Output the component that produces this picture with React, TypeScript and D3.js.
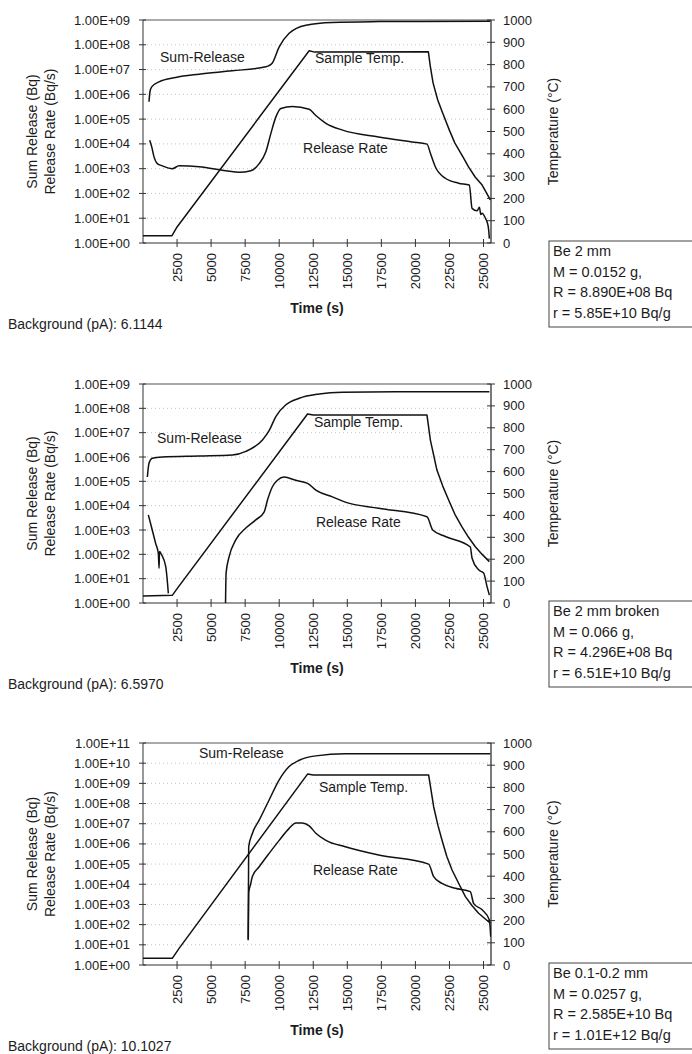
import React from "react";
import * as d3 from "d3";

type Pt = [number, number | null];

const FONT = "Liberation Sans, Arial, Helvetica, sans-serif";
const INK = "#1c1c1c";

const timeTicks = [2500, 5000, 7500, 10000, 12500, 15000, 17500, 20000, 22500, 25000];
const tempTicks = [0, 100, 200, 300, 400, 500, 600, 700, 800, 900, 1000];
const seriesNames = ["Sum-Release", "Sample Temp.", "Release Rate"];

// ---- Be 2 mm ----
const sum1: Pt[] = [
  [441, 5.0e5], [515, 1.3e6], [640, 2.0e6], [1176, 3.2e6], [2400, 4.8e6], [4116, 6.5e6],
  [6540, 8.9e6], [9020, 1.3e7], [9200, 1.4e7], [9480, 1.8e7], [10000, 8.3e7], [10730, 2.9e8],
  [11960, 6.2e8], [13890, 8.0e8], [17350, 8.6e8], [20290, 8.8e8], [25500, 8.9e8],
];
const rate1: Pt[] = [
  [490, 1.4e4], [640, 7.6e3], [810, 3.0e3], [1050, 1.6e3], [1420, 1.3e3], [2150, 1.0e3],
  [2650, 1.3e3], [4120, 1.2e3], [6080, 8.3e2], [7060, 7.2e2], [7915, 8.3e2], [8530, 1.6e3],
  [9020, 4.8e3], [9385, 2.6e4], [9750, 1.2e5], [10120, 2.7e5], [10970, 3.2e5], [12200, 2.5e5],
  [12690, 1.4e5], [13430, 6.8e4], [14650, 3.6e4], [17300, 1.9e4], [19750, 1.2e4], [20850, 9.8e3],
  [21100, 4.2e3], [21460, 1.2e3], [22200, 4.1e2], [23170, 2.6e2], [23960, 2.2e2], [24160, 25],
  [24530, 20], [24700, 28], [24800, 14], [24900, 16], [25140, 10], [25260, 7.2], [25380, 3.3],
  [25430, 1.5],
];
const temp1: Pt[] = [
  [0, 33], [2130, 33], [2500, 72], [12200, 862], [12600, 856], [20950, 858], [21100, 790],
  [21300, 717], [21640, 641], [22000, 583], [22500, 505], [22900, 448], [23500, 385],
  [23900, 341], [24400, 295], [24900, 260], [25500, 193],
];
const info1 = ["Be 2 mm", "M = 0.0152 g,", "R = 8.890E+08 Bq", "r = 5.85E+10 Bq/g"];
const bg1 = "Background (pA): 6.1144";

// ---- Be 2 mm broken ----
const sum2: Pt[] = [
  [320, 1.5e5], [440, 5.5e5], [680, 8.9e5], [1420, 1.0e6], [4120, 1.1e6], [6560, 1.2e6],
  [7550, 1.7e6], [8770, 5.0e6], [9260, 1.2e7], [9750, 4.6e7], [10490, 1.4e8], [11470, 2.6e8],
  [12940, 3.9e8], [14650, 4.6e8], [18520, 4.8e8], [25430, 4.8e8],
];
const rate2: Pt[] = [
  [390, 4.2e3], [680, 1.0e3], [930, 2.8e2], [1125, 1.1e2], [1180, 27], [1210, 1.3e2],
  [1350, 1.0e2], [1670, 31], [1860, 2.5], [1900, null],
  [6060, 1.0], [6100, 17], [6320, 79], [6810, 3.9e2], [7550, 1.2e3], [8280, 2.6e3],
  [8900, 5.6e3], [9140, 1.7e4], [9500, 6.0e4], [9870, 1.1e5], [10360, 1.5e5], [11220, 1.1e5],
  [12080, 8.3e4], [12690, 4.4e4], [13910, 2.3e4], [14850, 1.4e4], [17300, 7.8e3], [20850, 3.5e3],
  [21270, 1.0e3], [22200, 5.4e2], [24030, 2.0e2], [24160, 69], [24640, 23], [25010, 17],
  [25260, 4.7], [25430, 2.1],
];
const temp2: Pt[] = [
  [0, 32], [2150, 35], [2520, 67], [12080, 863], [12500, 858], [20850, 858], [21100, 744],
  [21580, 607], [22000, 535], [22440, 470], [22900, 405], [23420, 348], [23900, 300],
  [24400, 257], [24900, 222], [25430, 189],
];
const info2 = ["Be 2 mm broken", "M = 0.066 g,", "R = 4.296E+08 Bq", "r = 6.51E+10 Bq/g"];
const bg2 = "Background (pA): 6.5970";

// ---- Be 0.1-0.2 mm ----
const sum3: Pt[] = [
  [7720, 17], [7760, 7.2e5], [8030, 3.3e6], [8530, 1.5e7], [9260, 1.5e8], [10000, 1.5e9],
  [10730, 6.8e9], [11470, 1.4e10], [12690, 2.3e10], [14850, 2.9e10], [25500, 2.9e10],
];
const rate3: Pt[] = [
  [7730, 20], [7760, 4.0e3], [7900, 1.0e4], [8030, 2.4e4], [8530, 7.4e4], [9260, 3.4e5],
  [10000, 1.5e6], [10730, 5.9e6], [11220, 1.1e7], [11700, 1.1e7], [12200, 7.8e6], [12690, 3.4e6],
  [13430, 1.5e6], [14850, 7.2e5], [17300, 2.8e5], [20970, 1.0e5], [21340, 2.4e4], [21950, 1.1e4],
  [22930, 6.3e3], [24030, 4.3e3], [24280, 1.1e3], [24900, 5.4e2], [25430, 1.7e2], [25530, 25],
];
const temp3: Pt[] = [
  [0, 30], [2150, 30], [2650, 75], [12080, 860], [12500, 856], [20970, 856], [21340, 713],
  [21650, 630], [21950, 563], [22300, 490], [22690, 428], [23200, 365], [23670, 308],
  [24150, 268], [24640, 233], [25500, 188],
];
const info3 = ["Be 0.1-0.2 mm", "M = 0.0257 g,", "R = 2.585E+10 Bq", "r = 1.01E+12 Bq/g"];
const bg3 = "Background (pA): 10.1027";

// label anchors: [time, Bq value] for log series, [time, °C] for temperature
const labels1: Pt[] = [[1250, 2.0e7], [12630, 807], [11750, 4.3e3]];
const labels2: Pt[] = [[1030, 3.8e6], [12550, 804], [12700, 1.3e3]];
const labels3: Pt[] = [[4110, 1.8e10], [12920, 779], [12480, 2.9e4]];

const fmtExp = (e: number) => `1.00E+${String(e).padStart(2, "0")}`;

function Panel({ id, top, bottom, maxExp, sum, rate, temp, labels, info, background }: any) {
  const left = 143, right = 491;
  const x = d3.scaleLinear().domain([0, 25550]).range([left, right]);
  const y = d3.scaleLog().domain([1, Math.pow(10, maxExp)]).range([bottom, top]);
  const yT = d3.scaleLinear().domain([0, 1000]).range([bottom, top]);
  const exps = d3.range(0, maxExp + 1);

  const logLine = d3.line<Pt>()
    .defined(d => d[1] != null && (d[1] as number) > 0)
    .x(d => x(d[0]))
    .y(d => y(d[1] as number))
    .curve(d3.curveMonotoneX);
  const tempLine = d3.line<Pt>()
    .x(d => x(d[0]))
    .y(d => yT(d[1] as number));

  const midY = (top + bottom) / 2;
  const midX = (left + right) / 2;

  return (
    <g fontFamily={FONT} fill={INK}>
      <defs>
        <clipPath id={`clip${id}`}>
          <rect x={left} y={top - 1} width={right - left} height={bottom - top + 2} />
        </clipPath>
      </defs>

      {/* dotted grid */}
      {exps.slice(1, -1).map(e => (
        <line key={e} x1={left} x2={right} y1={y(Math.pow(10, e))} y2={y(Math.pow(10, e))}
          stroke="#aaa" strokeWidth={0.7} strokeDasharray="1,3" />
      ))}

      {/* frame */}
      <line x1={left} x2={right} y1={top} y2={top} stroke="#555" strokeWidth={1} />
      <line x1={left} x2={left} y1={top} y2={bottom} stroke="#333" strokeWidth={1} />
      <line x1={right} x2={right} y1={top} y2={bottom} stroke="#222" strokeWidth={1.2} />
      <line x1={left} x2={right} y1={bottom} y2={bottom} stroke="#333" strokeWidth={1.2} />

      {/* left axis */}
      {exps.map(e => (
        <g key={e}>
          <line x1={left - 4} x2={left + 3} y1={y(Math.pow(10, e))} y2={y(Math.pow(10, e))} stroke="#333" />
          <text x={left - 13} y={y(Math.pow(10, e))} fontSize={13} textAnchor="end" dominantBaseline="central">
            {fmtExp(e)}
          </text>
        </g>
      ))}

      {/* right axis */}
      {tempTicks.map(t => (
        <g key={t}>
          <line x1={right - 4} x2={right + 4} y1={yT(t)} y2={yT(t)} stroke="#333" />
          <text x={right + 12} y={yT(t)} fontSize={13} dominantBaseline="central">{t}</text>
        </g>
      ))}

      {/* bottom axis */}
      {timeTicks.map(t => (
        <g key={t}>
          <line x1={x(t)} x2={x(t)} y1={bottom - 4} y2={bottom + 4} stroke="#333" />
          <text transform={`translate(${x(t)},${bottom + 10}) rotate(-90)`} fontSize={13}
            textAnchor="end" dominantBaseline="central">{t}</text>
        </g>
      ))}

      {/* series */}
      <g clipPath={`url(#clip${id})`} fill="none" stroke="#111" strokeWidth={1.5} strokeLinejoin="round">
        <path d={logLine(sum) || ""} />
        <path d={logLine(rate) || ""} />
        <path d={tempLine(temp) || ""} />
      </g>

      <text x={x(labels[0][0])} y={y(labels[0][1])} fontSize={14}>{seriesNames[0]}</text>
      <text x={x(labels[1][0])} y={yT(labels[1][1])} fontSize={14}>{seriesNames[1]}</text>
      <text x={x(labels[2][0])} y={y(labels[2][1])} fontSize={14}>{seriesNames[2]}</text>

      {/* axis titles */}
      <text transform={`translate(32,${midY}) rotate(-90)`} fontSize={14} textAnchor="middle" dominantBaseline="central">
        Sum Release (Bq)
      </text>
      <text transform={`translate(50,${midY}) rotate(-90)`} fontSize={14} textAnchor="middle" dominantBaseline="central">
        Release Rate (Bq/s)
      </text>
      <text transform={`translate(553,${midY}) rotate(-90)`} fontSize={14} textAnchor="middle" dominantBaseline="central">
        Temperature (°C)
      </text>
      <text x={midX} y={bottom + 70} fontSize={14} fontWeight="bold" textAnchor="middle">Time (s)</text>
      <text x={8} y={bottom + 86} fontSize={14}>{background}</text>

      {/* info box */}
      <rect x={549} y={bottom - 2} width={160} height={86} fill="none" stroke="#444" strokeWidth={1} />
      {info.map((s: string, i: number) => (
        <text key={i} x={553} y={bottom + 13 + i * 20.5} fontSize={14.5}>{s}</text>
      ))}
    </g>
  );
}

export default function App() {
  return (
    <svg width={692} height={1054} style={{ position: "absolute", left: 0, top: 0, background: "#fff" }}>
      <Panel id={1} top={20} bottom={243} maxExp={9} sum={sum1} rate={rate1} temp={temp1}
        labels={labels1} info={info1} background={bg1} />
      <Panel id={2} top={384} bottom={603} maxExp={9} sum={sum2} rate={rate2} temp={temp2}
        labels={labels2} info={info2} background={bg2} />
      <Panel id={3} top={743} bottom={965} maxExp={11} sum={sum3} rate={rate3} temp={temp3}
        labels={labels3} info={info3} background={bg3} />
    </svg>
  );
}
